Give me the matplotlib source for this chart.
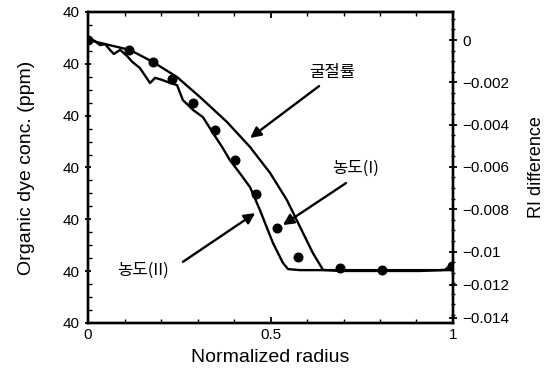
import matplotlib
matplotlib.use("Agg")
import matplotlib.pyplot as plt
from matplotlib.ticker import FixedLocator, FixedFormatter, MultipleLocator

plt.rcParams['font.family'] = ['Liberation Sans', 'Noto Sans CJK KR', 'DejaVu Sans']

# ---- data ----
# concentration II (jagged solid line), left axis units
conc2_x = [0.0, 0.019, 0.033, 0.047, 0.060, 0.071, 0.088, 0.107, 0.121, 0.142, 0.170, 0.184,
           0.203, 0.225, 0.244, 0.260, 0.288, 0.315, 0.342, 0.367, 0.389, 0.416, 0.444,
           0.471, 0.485, 0.507, 0.534, 0.548, 0.581, 0.70, 0.80, 0.90, 1.0]
conc2_y = [5.50, 5.44, 5.36, 5.38, 5.27, 5.19, 5.27, 5.15, 5.04, 4.92, 4.63, 4.73,
           4.69, 4.63, 4.59, 4.30, 4.11, 3.97, 3.67, 3.40, 3.14, 2.89, 2.62,
           2.18, 1.93, 1.54, 1.16, 1.04, 1.02, 1.02, 1.02, 1.02, 1.02]

# concentration I (dots), left axis units
conc1_x = [0.0, 0.112, 0.178, 0.230, 0.288, 0.348, 0.403, 0.460, 0.518, 0.575, 0.690, 0.805, 0.997]
conc1_y = [5.46, 5.27, 5.04, 4.71, 4.24, 3.72, 3.14, 2.49, 1.83, 1.27, 1.06, 1.02, 1.10]

# refractive index difference (smooth solid line), right axis
ri_x = [0.0, 0.115, 0.178, 0.244, 0.307, 0.381, 0.444, 0.499, 0.545, 0.581, 0.616, 0.644,
        0.690, 0.80, 0.91, 0.978, 0.99, 1.0]
ri_y = [0.0, -0.00047, -0.00104, -0.00175, -0.00270, -0.00388, -0.00506, -0.00629,
        -0.00757, -0.00884, -0.01007, -0.01087, -0.01092, -0.01092, -0.01092, -0.01087,
        -0.0107, -0.0105]

x_ticks = [0, 0.5, 1]
x_tick_labels = ['0', '0.5', '1']
left_ticks = [0, 1, 2, 3, 4, 5, 6]
left_tick_labels = ['40'] * 7
right_tick_pos = [0.0, -0.002, -0.004, -0.006, -0.008, -0.010, -0.01158, -0.01314]
right_tick_labels = ['0', '\u22120.002', '\u22120.004', '\u22120.006', '\u22120.008',
                     '\u22120.01', '\u22120.012', '\u22120.014']

# ---- figure ----
fig = plt.figure(figsize=(5.44, 3.77), dpi=100)
ax = fig.add_axes([88 / 544, (377 - 323) / 377, 365 / 544, 311 / 377])
ax2 = ax.twinx()

ax.plot(conc2_x, conc2_y, color='black', lw=1.7, zorder=3)
ax.plot(conc1_x, conc1_y, linestyle='none', marker='o', color='black', markersize=6.2, zorder=4)
ax2.plot(ri_x, ri_y, color='black', lw=1.7, zorder=3)

ax.set_xlim(0, 1)
ax.set_ylim(0, 6)
ax2.set_ylim(-0.01338, 0.001324)

ax.set_xticks(x_ticks)
ax.set_xticklabels(x_tick_labels)
ax.xaxis.set_minor_locator(MultipleLocator(0.1))
ax.set_yticks(left_ticks)
ax.set_yticklabels(left_tick_labels)
ax.yaxis.set_minor_locator(MultipleLocator(0.25))

ax2.yaxis.set_major_locator(FixedLocator(right_tick_pos))
ax2.yaxis.set_major_formatter(FixedFormatter(right_tick_labels))
ax2.yaxis.set_minor_locator(MultipleLocator(0.0005))

for a in (ax, ax2):
    for s in a.spines.values():
        s.set_linewidth(1.7)
ax.tick_params(axis='both', which='major', labelsize=11, width=1.3, length=5, direction='inout')
ax.tick_params(axis='x', which='major', direction='in', length=4, top=True)
ax.tick_params(axis='both', which='minor', width=1.0, length=3, direction='in')
ax.tick_params(axis='x', which='minor', top=True)
ax2.tick_params(axis='y', which='major', labelsize=11, width=1.3, length=6, direction='inout')
ax2.tick_params(axis='y', which='minor', width=1.0, length=3, direction='inout')

ax.set_xlabel('Normalized radius', fontsize=14, labelpad=5)
ax.set_ylabel('Organic dye conc. (ppm)', fontsize=14, labelpad=20)
ax2.set_ylabel('RI difference', fontsize=13, labelpad=14)

kfont = ['Noto Sans CJK KR', 'DejaVu Sans']
arrow = dict(arrowstyle='-|>', lw=1.7, color='black', mutation_scale=16, shrinkA=0, shrinkB=0)

ax.text(0.668, 4.84, '굴절률', family=kfont, fontsize=12, ha='center', va='center')
ax.annotate('', xy=(0.444, 3.57), xytext=(0.633, 4.57), arrowprops=arrow)

ax.text(0.732, 2.99, '농도(I)', family=kfont, fontsize=12, ha='center', va='center')
ax.annotate('', xy=(0.534, 1.89), xytext=(0.707, 2.70), arrowprops=arrow)

ax.text(0.151, 1.02, '농도(II)', family=kfont, fontsize=12, ha='center', va='center')
ax.annotate('', xy=(0.458, 2.12), xytext=(0.260, 1.18), arrowprops=arrow)

fig.savefig('out.png', dpi=100)
